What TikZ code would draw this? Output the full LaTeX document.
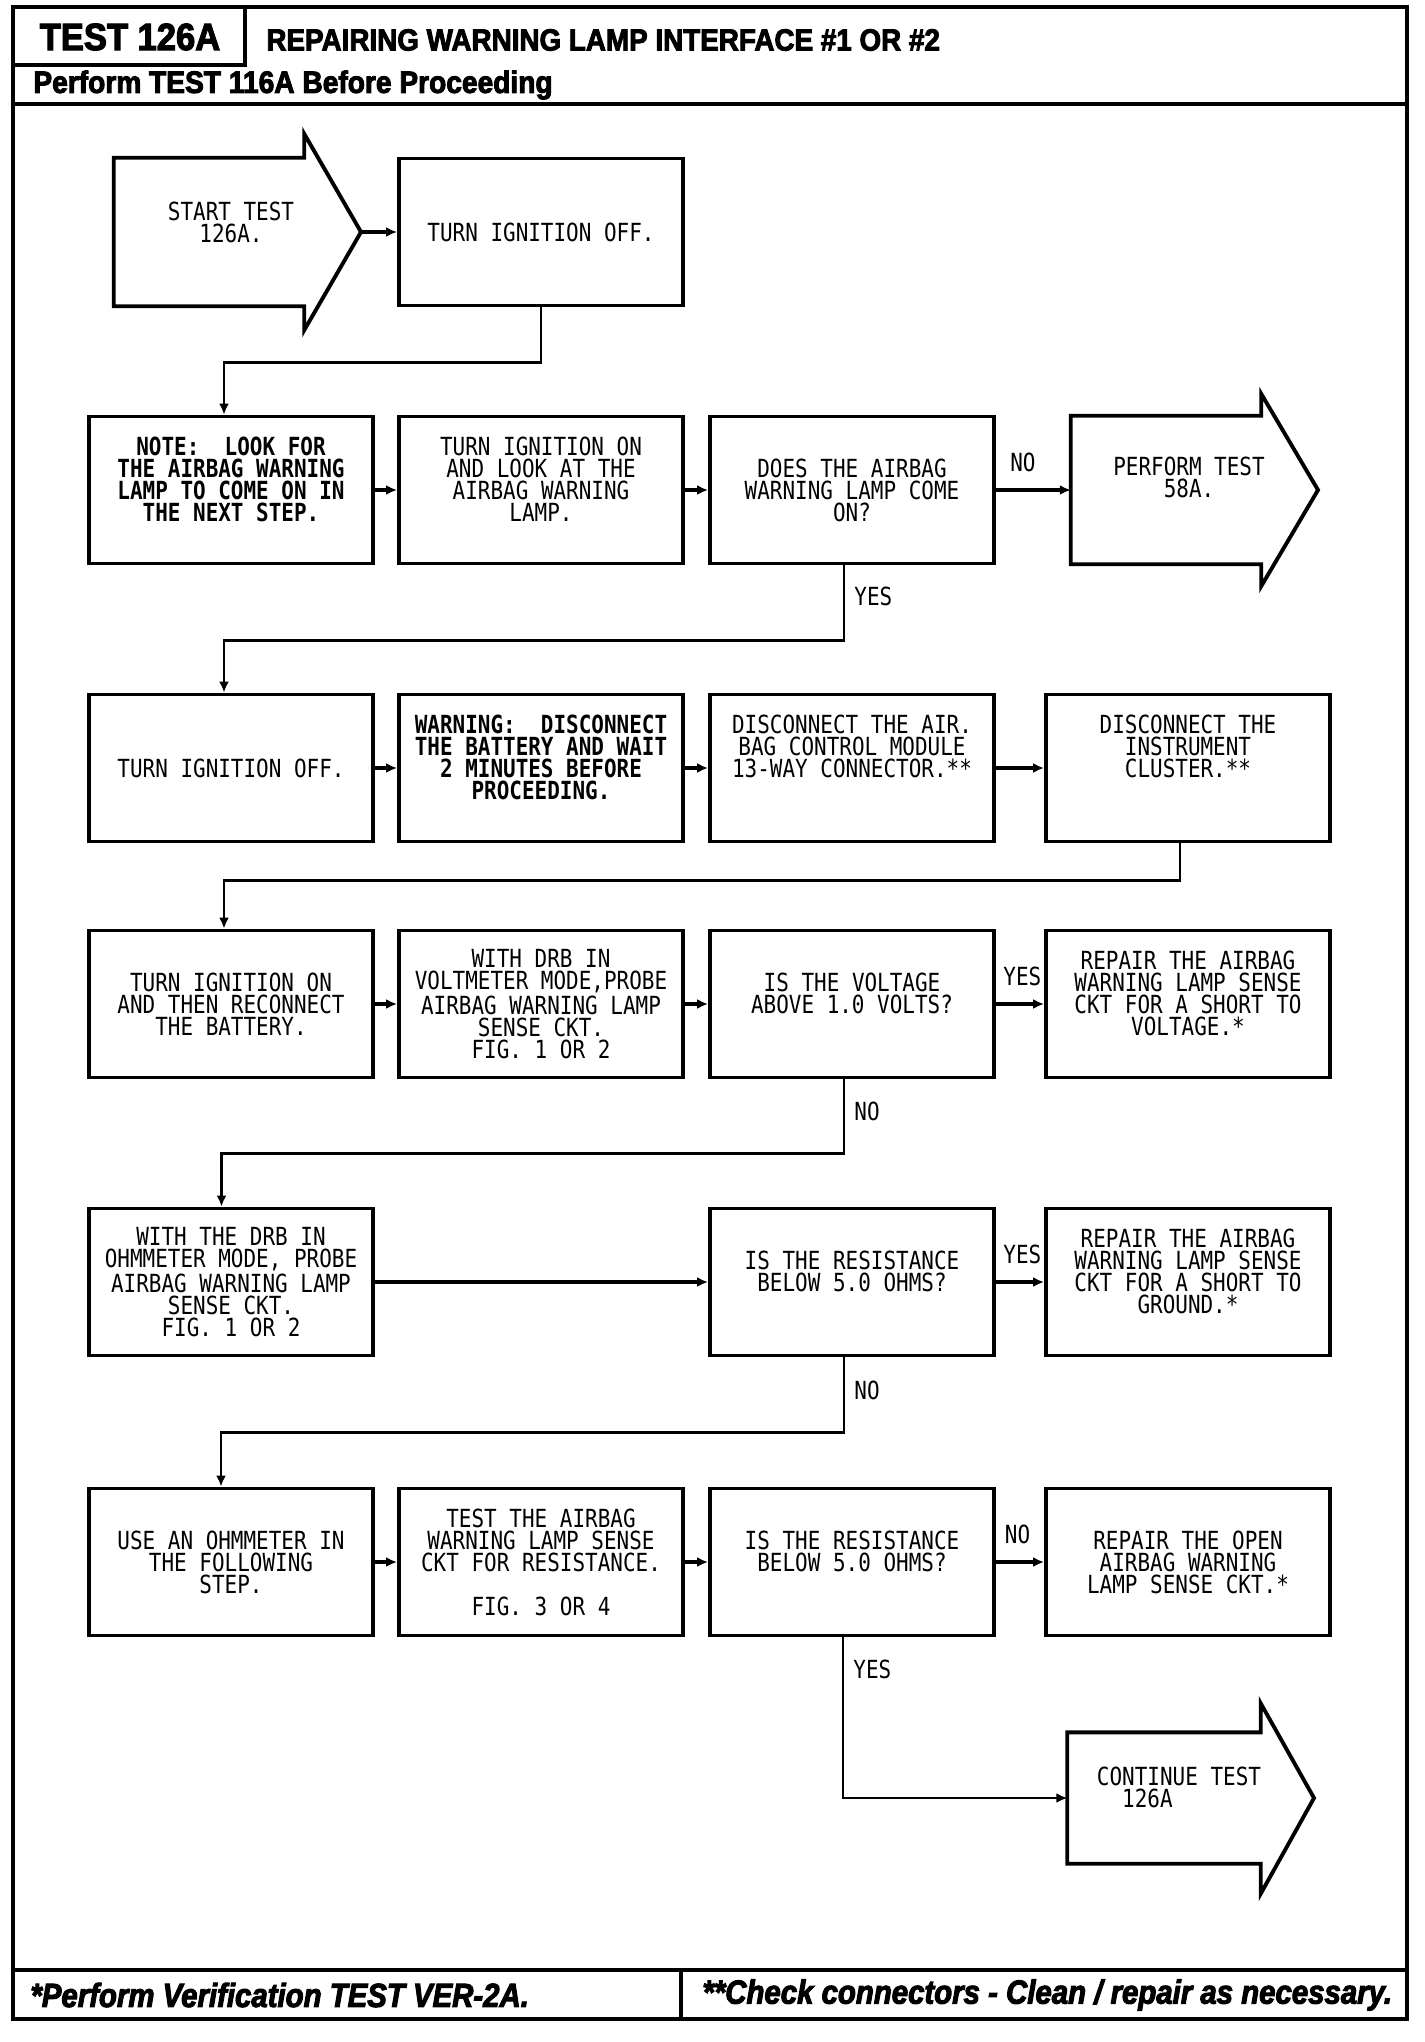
\documentclass[tikz,border=0pt]{standalone}
\usepackage{fontspec}
\usetikzlibrary{arrows.meta}
\newfontfamily\plotfont[FakeStretch=0.84]{DejaVu Sans Mono}
\newfontfamily\headfont[FakeStretch=0.91,BoldFeatures={FakeBold=3}]{Liberation Sans}
\newfontfamily\footfont[FakeStretch=0.88,BoldItalicFeatures={FakeBold=3}]{Liberation Sans}
\tikzset{
  chart/.style={x=0.1mm,y=-0.1mm,line join=miter},
  frame/.style={line width=1.1pt},
  plottext/.style={align=center,inner sep=0.4mm,font=\plotfont\fontsize{7.1}{6.25}\selectfont},
  stepbox/.style={plottext,draw,line width=1.1pt,minimum width=28.4mm,minimum height=14.7mm},
  arrowbody/.style={minimum width=18.9mm,minimum height=14.7mm,inner sep=0pt},
  outline/.style={line width=1.1pt},
  hop/.style={line width=1.3pt,-{Latex[length=1.1mm,width=1mm]}},
  link/.style={line width=0.8pt,-{Latex[length=1.1mm,width=1mm]}},
  answer/.style={plottext},
}

\begin{document}
\begin{tikzpicture}[chart]
  \useasboundingbox (0,0) rectangle (1424,2042);
  % frame, header, footer
  \draw[frame] (13,7) rectangle (1407,2019);
  \draw[frame] (13,65) -- (245,65) -- (245,7);
  \draw[frame] (13,104) -- (1407,104);
  \draw[frame] (13,1970) -- (1407,1970);
  \draw[frame] (681,1970) -- (681,2019);
  \node[font=\headfont\bfseries\fontsize{10.8}{12}\selectfont] (testno) at (130,37) {TEST 126A};
  \node[anchor=west,font=\headfont\bfseries\fontsize{8.7}{10}\selectfont] (title) at (254,40) {REPAIRING WARNING LAMP INTERFACE \#1 OR \#2};
  \node[anchor=west,font=\headfont\bfseries\fontsize{8.8}{10}\selectfont] (before) at (21,85) {Perform TEST 116A Before Proceeding};
  \node[anchor=west,font=\footfont\bfseries\itshape\fontsize{9.5}{11}\selectfont] (verify) at (18,1995) {*Perform Verification TEST VER-2A.};
  \node[anchor=west,font=\footfont\bfseries\itshape\fontsize{9.5}{11}\selectfont] (connectors) at (690,1995) {**Check connectors - Clean / repair as necessary.};

  % row 1
  \node[arrowbody] (start) at (209,232) {};
  \node[plottext] (starttext) at (231,222) {START TEST\\126A.};
  \coordinate (starttip) at (361,232);
  \draw[outline] (start.north west) -- (start.north east) -- ([yshift=2.4mm]start.north east) -- (starttip)
    -- ([yshift=-2.4mm]start.south east) -- (start.south east) -- (start.south west) -- cycle;
  \node[stepbox] (off) at (541,232) {TURN IGNITION OFF.};

  % row 2
  \node[stepbox,font=\plotfont\bfseries\fontsize{7.1}{6.25}\selectfont] (note) at (231,490) {NOTE:~ LOOK FOR\\THE AIRBAG WARNING\\LAMP TO COME ON IN\\THE NEXT STEP.\\~};
  \node[stepbox] (look) at (541,490) {TURN IGNITION ON\\AND LOOK AT THE\\AIRBAG WARNING\\LAMP.\\~};
  \node[stepbox] (does) at (852,490) {DOES THE AIRBAG\\WARNING LAMP COME\\ON?};
  \node[arrowbody] (perform) at (1166,490) {};
  \node[plottext] (performtext) at (1189,477) {PERFORM TEST\\58A.};
  \coordinate (performtip) at (1318,490);
  \draw[outline] (perform.north west) -- (perform.north east) -- ([yshift=2.2mm]perform.north east) -- (performtip)
    -- ([yshift=-2.2mm]perform.south east) -- (perform.south east) -- (perform.south west) -- cycle;

  % row 3
  \node[stepbox] (ignoff) at (231,768) {TURN IGNITION OFF.};
  \node[stepbox,font=\plotfont\bfseries\fontsize{7.1}{6.25}\selectfont] (warn) at (541,768) {WARNING:~ DISCONNECT\\THE BATTERY AND WAIT\\2 MINUTES BEFORE\\PROCEEDING.\\~};
  \node[stepbox] (module) at (852,768) {DISCONNECT THE AIR.\\BAG CONTROL MODULE\\13-WAY CONNECTOR.**\\~\\~};
  \node[stepbox] (cluster) at (1188,768) {DISCONNECT THE\\INSTRUMENT\\CLUSTER.**\\~\\~};

  % row 4
  \node[stepbox] (ignon) at (231,1004) {TURN IGNITION ON\\AND THEN RECONNECT\\THE BATTERY.};
  \node[stepbox] (voltprobe) at (541,1004) {WITH DRB IN\\VOLTMETER MODE,PROBE\\AIRBAG WARNING LAMP\\SENSE CKT.\\FIG. 1 OR 2};
  \node[stepbox] (voltq) at (852,1004) {IS THE VOLTAGE\\ABOVE 1.0 VOLTS?\\~};
  \node[stepbox] (voltfix) at (1188,1004) {REPAIR THE AIRBAG\\WARNING LAMP SENSE\\CKT FOR A SHORT TO\\VOLTAGE.*\\~};

  % row 5
  \node[stepbox] (ohmprobe) at (231,1282) {WITH THE DRB IN\\OHMMETER MODE, PROBE\\AIRBAG WARNING LAMP\\SENSE CKT.\\FIG. 1 OR 2};
  \node[stepbox] (shortq) at (852,1282) {IS THE RESISTANCE\\BELOW 5.0 OHMS?\\~};
  \node[stepbox] (shortfix) at (1188,1282) {REPAIR THE AIRBAG\\WARNING LAMP SENSE\\CKT FOR A SHORT TO\\GROUND.*\\~};

  % row 6
  \node[stepbox] (useohm) at (231,1562) {USE AN OHMMETER IN\\THE FOLLOWING\\STEP.};
  \node[stepbox] (resprobe) at (541,1562) {TEST THE AIRBAG\\WARNING LAMP SENSE\\CKT FOR RESISTANCE.\\~\\FIG. 3 OR 4};
  \node[stepbox] (openq) at (852,1562) {IS THE RESISTANCE\\BELOW 5.0 OHMS?\\~};
  \node[stepbox] (openfix) at (1188,1562) {REPAIR THE OPEN\\AIRBAG WARNING\\LAMP SENSE CKT.*};

  \node[arrowbody,minimum width=19.2mm,minimum height=13mm] (cont) at (1164,1798) {};
  \node[plottext,align=left] (conttext) at (1179,1787) {CONTINUE TEST\\~~126A};
  \coordinate (conttip) at (1314,1798);
  \draw[outline] (cont.north west) -- (cont.north east) -- ([yshift=2.9mm]cont.north east) -- (conttip)
    -- ([yshift=-3mm]cont.south east) -- (cont.south east) -- (cont.south west) -- cycle;

  % straight steps
  \foreach \a/\b in {note/look,look/does,ignoff/warn,warn/module,module/cluster,
                     ignon/voltprobe,voltprobe/voltq,ohmprobe/shortq,useohm/resprobe,resprobe/openq}
    \draw[hop] (\a) -- (\b);
  \draw[hop] (starttip) -- (off);
  \draw[hop] (does) -- node[answer,above=1.2mm,pos=0.36] (no1) {NO} (perform);
  \draw[hop] (voltq) -- node[answer,above=1.2mm,pos=0.55] (yes2) {YES} (voltfix);
  \draw[hop] (shortq) -- node[answer,above=1.2mm,pos=0.55] (yes3) {YES} (shortfix);
  \draw[hop] (openq) -- node[answer,above=1.2mm,pos=0.45] (no4) {NO} (openfix);

  % row to row
  \draw[link] (off.south) -- ++(0,55) -| ([xshift=-0.7mm]note.north);
  \draw[link] ([xshift=-0.8mm]does.south) -- node[answer,right=0.5mm,pos=0.41] (yes1) {YES} ++(0,75) -| ([xshift=-0.7mm]ignoff.north);
  \draw[link] ([xshift=-0.8mm]cluster.south) -- ++(0,37) -| ([xshift=-0.7mm]ignon.north);
  \draw[link] ([xshift=-0.8mm]voltq.south) -- node[answer,right=0.5mm,pos=0.43] (no2) {NO} ++(0,74) -| ([xshift=-0.95mm]ohmprobe.north);
  \draw[link] ([xshift=-0.8mm]shortq.south) -- node[answer,right=0.5mm,pos=0.44] (no3) {NO} ++(0,75) -| ([xshift=-1mm]useohm.north);
  \draw[link] ([xshift=-0.9mm]openq.south) |- node[answer,right=0.5mm,pos=0.1] (yes4) {YES} (cont);
\end{tikzpicture}
\end{document}
